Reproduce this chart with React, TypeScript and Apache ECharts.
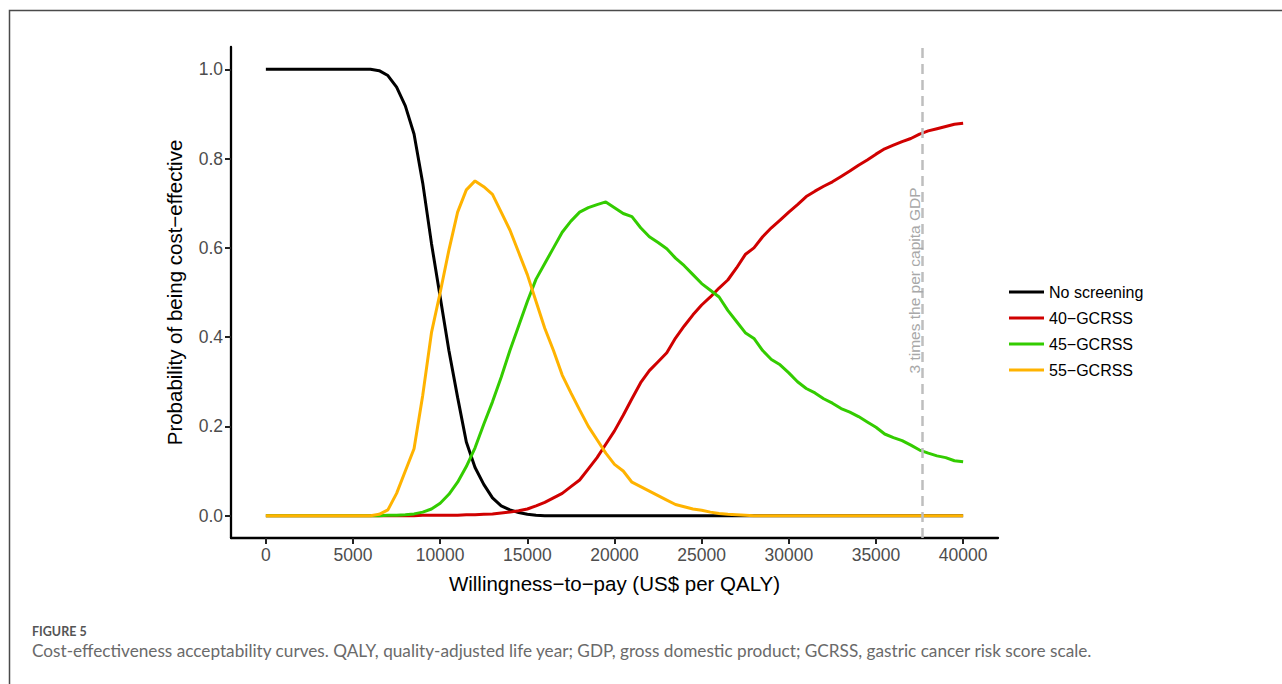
import React, { useEffect, useRef } from "react";
import * as echarts from "echarts";

// Willingness-to-pay grid (US$ per QALY)
const wtp = [
  0, 500, 1000, 1500, 2000, 2500, 3000, 3500, 4000, 4500,
  5000, 5500, 6000, 6500, 7000, 7500, 8000, 8500, 9000, 9500,
  10000, 10500, 11000, 11500, 12000, 12500, 13000, 13500, 14000, 14500,
  15000, 15500, 16000, 16500, 17000, 17500, 18000, 18500, 19000, 19500,
  20000, 20500, 21000, 21500, 22000, 22500, 23000, 23500, 24000, 24500,
  25000, 25500, 26000, 26500, 27000, 27500, 28000, 28500, 29000, 29500,
  30000, 30500, 31000, 31500, 32000, 32500, 33000, 33500, 34000, 34500,
  35000, 35500, 36000, 36500, 37000, 37500, 38000, 38500, 39000, 39500,
  40000,
];

const noScreening = [
  1, 1, 1, 1, 1, 1, 1, 1, 1, 1,
  1, 1, 1, 0.997, 0.986, 0.96, 0.918, 0.855, 0.745, 0.61,
  0.49, 0.37, 0.265, 0.165, 0.108, 0.07, 0.04, 0.022, 0.013, 0.007,
  0.003, 0.001, 0, 0, 0, 0, 0, 0, 0, 0,
  0, 0, 0, 0, 0, 0, 0, 0, 0, 0,
  0, 0, 0, 0, 0, 0, 0, 0, 0, 0,
  0, 0, 0, 0, 0, 0, 0, 0, 0, 0,
  0, 0, 0, 0, 0, 0, 0, 0, 0, 0,
  0,
];

const gcrss40 = [
  0, 0, 0, 0, 0, 0, 0, 0, 0, 0,
  0, 0, 0, 0, 0, 0, 0, 0, 0.001, 0.001,
  0.001, 0.001, 0.001, 0.002, 0.002, 0.003, 0.004, 0.006, 0.008, 0.011,
  0.015, 0.022, 0.03, 0.04, 0.05, 0.065, 0.08, 0.105, 0.13, 0.16,
  0.19, 0.225, 0.262, 0.298, 0.325, 0.345, 0.365, 0.398, 0.425, 0.45,
  0.472, 0.49, 0.51, 0.528, 0.555, 0.585, 0.6, 0.625, 0.645, 0.662,
  0.68, 0.697, 0.715, 0.727, 0.738, 0.748, 0.76, 0.772, 0.785, 0.797,
  0.81, 0.822, 0.83, 0.838, 0.845, 0.855, 0.862, 0.867, 0.872, 0.877,
  0.879,
];

const gcrss45 = [
  0, 0, 0, 0, 0, 0, 0, 0, 0, 0,
  0, 0, 0, 0, 0.001, 0.001, 0.002, 0.004, 0.008, 0.015,
  0.028, 0.048, 0.075, 0.11, 0.152, 0.205, 0.255, 0.31, 0.37, 0.425,
  0.48, 0.53, 0.565, 0.6, 0.635, 0.66, 0.68, 0.69, 0.697, 0.703,
  0.69, 0.677, 0.67, 0.645, 0.625, 0.612, 0.598, 0.577, 0.56, 0.54,
  0.52, 0.505, 0.49, 0.46, 0.435, 0.41, 0.397, 0.37, 0.35, 0.338,
  0.32, 0.3, 0.285, 0.275, 0.262, 0.252, 0.24, 0.232, 0.222, 0.21,
  0.198, 0.183, 0.175, 0.168, 0.158, 0.147, 0.14, 0.134, 0.13, 0.123,
  0.121,
];

const gcrss55 = [
  0, 0, 0, 0, 0, 0, 0, 0, 0, 0,
  0, 0, 0, 0.003, 0.013, 0.05, 0.1, 0.15, 0.27, 0.41,
  0.5, 0.595, 0.68, 0.73, 0.75, 0.737, 0.72, 0.68, 0.64, 0.59,
  0.54, 0.48, 0.42, 0.37, 0.315, 0.275, 0.237, 0.2, 0.17, 0.14,
  0.115, 0.1, 0.075, 0.065, 0.055, 0.045, 0.035, 0.025, 0.02, 0.015,
  0.012, 0.008, 0.005, 0.003, 0.002, 0.001, 0, 0, 0, 0,
  0, 0, 0, 0, 0, 0, 0, 0, 0, 0,
  0, 0, 0, 0, 0, 0, 0, 0, 0, 0,
  0,
];

const seriesNames = ["No screening", "40\u2212GCRSS", "45\u2212GCRSS", "55\u2212GCRSS"];
const seriesColors = ["#000000", "#D00000", "#33CC00", "#FFB300"];
const xTicks = [0, 5000, 10000, 15000, 20000, 25000, 30000, 35000, 40000];
const yTicks = [0, 0.2, 0.4, 0.6, 0.8, 1.0];
const gdpThreshold = 37653;
const gdpLabel = "3 times the per capita GDP";
const xTitle = "Willingness\u2212to\u2212pay (US$ per QALY)";
const yTitle = "Probability of being cost\u2212effective";
const figureLabel = "FIGURE 5";
const figureCaption =
  "Cost-effectiveness acceptability curves. QALY, quality-adjusted life year; GDP, gross domestic product; GCRSS, gastric cancer risk score scale.";

export default function App() {
  const ref = useRef<HTMLDivElement>(null);

  useEffect(() => {
    if (!ref.current) return;
    const chart = echarts.init(ref.current, null, { renderer: "svg" });
    const font = "Liberation Sans";
    const captionFont = "Lato";
    const allSeries = [noScreening, gcrss40, gcrss45, gcrss55];

    chart.setOption({
      animation: false,
      textStyle: { fontFamily: font },
      grid: { left: 231, right: 284, top: 47, bottom: 146, containLabel: false },
      xAxis: {
        type: "value",
        min: -2000,
        max: 42000,
        axisLine: { show: true, onZero: false, lineStyle: { color: "#000", width: 2.3 } },
        axisTick: { show: true, length: 6, customValues: xTicks, lineStyle: { color: "#222", width: 2 } },
        axisLabel: {
          customValues: xTicks,
          color: "#4D4D4D",
          fontSize: 17.5,
          margin: 8,
          fontFamily: font,
          formatter: (v: number) => String(v),
        },
        splitLine: { show: false },
        name: xTitle,
        nameLocation: "middle",
        nameGap: 35,
        nameTextStyle: { color: "#000", fontSize: 20.5, fontFamily: font },
      },
      yAxis: {
        type: "value",
        min: -0.05,
        max: 1.05,
        axisLine: { show: true, onZero: false, lineStyle: { color: "#000", width: 2.3 } },
        axisTick: { show: true, length: 6, customValues: yTicks, lineStyle: { color: "#222", width: 2 } },
        axisLabel: {
          customValues: yTicks,
          color: "#4D4D4D",
          fontSize: 17.5,
          margin: 8,
          fontFamily: font,
          formatter: (v: number) => v.toFixed(1),
        },
        splitLine: { show: false },
        name: yTitle,
        nameLocation: "middle",
        nameGap: 46,
        nameTextStyle: { color: "#000", fontSize: 20.5, fontFamily: font },
      },
      legend: {
        orient: "vertical",
        left: 1004,
        top: 279,
        itemWidth: 35,
        itemHeight: 14,
        itemGap: 10,
        icon: "path://M0,6 L35,6 L35,9 L0,9 Z",
        textStyle: { fontSize: 16, color: "#000", fontFamily: font },
        data: seriesNames,
        selectedMode: false,
      },
      graphic: [
        {
          type: "rect",
          silent: true,
          shape: { x: 9.5, y: 10.5, width: 1400, height: 800 },
          style: { fill: "none", stroke: "#4A4A4A", lineWidth: 1.5 },
        },
        {
          type: "text",
          silent: true,
          x: 32,
          y: 631.5,
          style: {
            text: figureLabel,
            fill: "#555555",
            fontSize: 12.5,
            fontWeight: "bold",
            fontFamily: captionFont,
            verticalAlign: "middle",
          },
        },
        {
          type: "text",
          silent: true,
          x: 32,
          y: 650.5,
          style: {
            text: figureCaption,
            fill: "#6A6A6A",
            fontSize: 17.2,
            fontFamily: captionFont,
            verticalAlign: "middle",
          },
        },
      ],
      series: allSeries.map((vals, i) => ({
        name: seriesNames[i],
        type: "line",
        data: wtp.map((x, j) => [x, vals[j]]),
        symbol: "none",
        showSymbol: false,
        lineStyle: { color: seriesColors[i], width: 3 },
        itemStyle: { color: seriesColors[i] },
        emphasis: { disabled: true },
        ...(i === 0
          ? {
              markLine: {
                silent: true,
                symbol: ["none", "none"],
                lineStyle: { type: [10, 6], color: "#BEBEBE", width: 2.5 },
                label: {
                  show: true,
                  formatter: gdpLabel,
                  position: "insideMiddleTop",
                  color: "#A8A8A8",
                  fontSize: 15.5,
                  distance: 0,
                  fontFamily: font,
                  offset: [12, 0],
                },
                data: [{ xAxis: gdpThreshold }],
              },
            }
          : {}),
      })),
    });

    return () => {
      chart.dispose();
    };
  }, []);

  return (
    <div
      ref={ref}
      style={{ position: "absolute", left: 0, top: 0, width: 1282, height: 684, background: "#fff" }}
    />
  );
}
